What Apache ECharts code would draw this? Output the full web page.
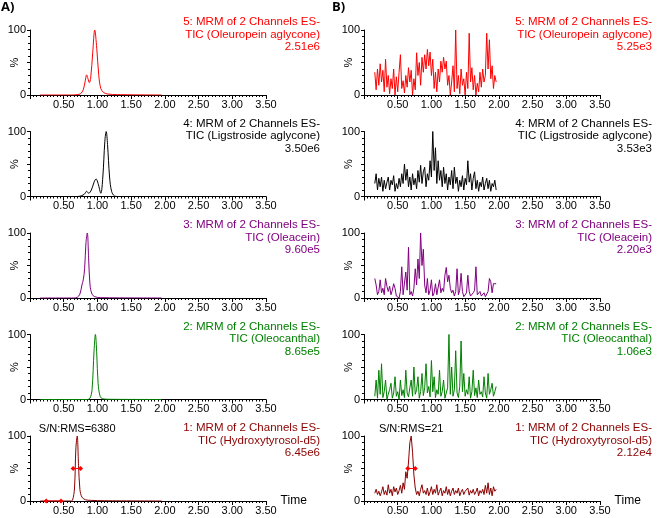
<!DOCTYPE html>
<html>
<head>
<meta charset="utf-8">
<script src="https://cdn.jsdelivr.net/npm/echarts@6/dist/echarts.min.js"></script>
<style>
    html, body { margin: 0; padding: 0; background: #fff; }
    #main { width: 657px; height: 518px; }
</style>
</head>
<body>
<div id="main"></div>
<script>
// panel titles, top to bottom (5 -> 1)
var titles = [
    '5: MRM of 2 Channels ES-\nTIC (Oleuropein aglycone)',
    '4: MRM of 2 Channels ES-\nTIC (Ligstroside aglycone)',
    '3: MRM of 2 Channels ES-\nTIC (Oleacein)',
    '2: MRM of 2 Channels ES-\nTIC (Oleocanthal)',
    '1: MRM of 2 Channels ES-\nTIC (Hydroxytyrosol-d5)'
];
var intensityA = ['2.51e6', '3.50e6', '9.60e5', '8.65e5', '6.45e6'];
var intensityB = ['5.25e3', '3.53e3', '2.20e3', '1.06e3', '2.12e4'];
var colors = ['#ff0000', '#000000', '#800080', '#008000', '#8b0000'];

// A) smooth chromatograms, [time, %]
var a5 = [[0.15, 0], [0.6, 0], [0.7, 0.5], [0.75, 2], [0.79, 8], [0.82, 22], [0.84, 31], [0.86, 25], [0.88, 19],
    [0.9, 26], [0.93, 65], [0.96, 100], [0.99, 72], [1.02, 30], [1.05, 10], [1.09, 4], [1.15, 1.5], [1.3, 0.6], [1.95, 0]];
var a4 = [[0.15, 0], [0.7, 0], [0.76, 1], [0.81, 4], [0.84, 8], [0.87, 5], [0.91, 10], [0.95, 22], [0.98, 27],
    [1.01, 20], [1.05, 5], [1.08, 30], [1.11, 85], [1.13, 100], [1.15, 80], [1.18, 30], [1.21, 8], [1.25, 1], [1.3, 0], [1.95, 0]];
var a3 = [[0.15, 0], [0.65, 0], [0.7, 1], [0.74, 6], [0.77, 20], [0.79, 28], [0.81, 45], [0.83, 85], [0.85, 100],
    [0.87, 60], [0.89, 20], [0.92, 6], [0.96, 2], [1.05, 0.5], [1.95, 0]];
var a2 = [[0.15, 0], [0.85, 0], [0.89, 2], [0.92, 15], [0.95, 75], [0.97, 100], [0.99, 70], [1.01, 25], [1.04, 5],
    [1.08, 1], [1.2, 0.3], [1.95, 0]];
var a1 = [[0.15, 0], [0.6, 0], [0.63, 1], [0.66, 20], [0.68, 80], [0.7, 100], [0.72, 55], [0.74, 18], [0.77, 6],
    [0.82, 2], [0.9, 1], [1.1, 0.4], [1.95, 0]];
var a1Width = [[0.64, 50], [0.75, 50]];
var a1Noise = [[0.24, 0], [0.46, 0]];

// B) noisy chromatograms, one value every 0.02 min from 0.16
var noiseStart = 0.16, noiseStep = 0.02;
var b5 = [35, 8, 40, 15, 48, 20, 38, 5, 55, 12, 30, 2, 25, 10, 40, 0, 28, 5, 35, 62,
    10, 22, 3, 30, 12, 42, 20, 38, 0, 25, 8, 65, 30, 50, 15, 58, 35, 62, 40, 70,
    45, 66, 30, 55, 10, 35, 5, 40, 20, 52, 35, 58, 40, 52, 15, 30, 0, 20, 45, 5,
    100, 10, 30, 2, 40, 15, 25, 0, 35, 10, 95, 20, 42, 8, 30, 0, 18, 5, 35, 12,
    40, 20, 30, 95, 40, 85, 25, 45, 10, 30, 20];
var b4 = [20, 35, 10, 28, 15, 30, 8, 25, 12, 22, 30, 10, 25, 18, 32, 8, 20, 12, 28, 15,
    35, 20, 50, 25, 42, 15, 30, 10, 35, 18, 28, 12, 40, 22, 48, 20, 38, 45, 15, 35,
    25, 55, 30, 100, 40, 75, 20, 55, 25, 40, 15, 45, 20, 35, 10, 30, 18, 40, 12, 45,
    20, 30, 8, 25, 15, 32, 10, 28, 18, 55, 22, 35, 10, 28, 38, 12, 25, 8, 22, 15,
    30, 10, 20, 28, 12, 25, 8, 20, 15, 25, 10];
var b3 = [30, 20, 5, 10, 28, 8, 15, 5, 30, 18, 10, 18, 5, 12, 22, 15, 3, 2, 0, 10,
    48, 5, 8, 40, 12, 78, 5, 10, 3, 15, 45, 20, 60, 30, 100, 50, 75, 20, 8, 30,
    5, 12, 28, 3, 8, 22, 5, 2, 28, 8, 15, 10, 35, 47, 25, 35, 15, 8, 12, 3,
    10, 45, 5, 12, 38, 10, 2, 5, 8, 35, 10, 3, 5, 8, 12, 48, 5, 2, 10, 3,
    5, 8, 2, 5, 10, 30, 25, 8, 22, 20, 22];
var b2 = [5, 30, 2, 45, 8, 55, 3, 12, 30, 0, 8, 15, 25, 2, 10, 35, 5, 12, 0, 30,
    6, 15, 3, 45, 10, 4, 18, 30, 5, 50, 8, 15, 35, 2, 12, 40, 6, 18, 55, 10,
    20, 4, 60, 12, 35, 3, 15, 8, 45, 5, 12, 30, 2, 10, 18, 100, 8, 50, 5, 15,
    75, 10, 3, 20, 90, 12, 40, 5, 15, 8, 35, 2, 12, 45, 6, 18, 3, 30, 8, 12,
    4, 35, 10, 2, 40, 8, 15, 25, 5, 12, 20];
var b1 = [12, 18, 10, 15, 8, 14, 22, 10, 16, 9, 25, 12, 18, 8, 22, 14, 20, 10, 16, 24,
    12, 28, 18, 45, 35, 60, 90, 100, 75, 40, 20, 10, 15, 8, 18, 25, 12, 16, 10, 20,
    8, 14, 22, 10, 18, 12, 25, 9, 15, 20, 8, 16, 12, 22, 10, 18, 8, 15, 20, 10,
    16, 12, 20, 8, 14, 18, 10, 15, 12, 20, 9, 16, 12, 18, 10, 14, 20, 8, 16, 12,
    18, 10, 24, 12, 28, 10, 20, 8, 22, 15, 18];
var b1Width = [[0.65, 50], [0.76, 50]];

var snA = 'S/N:RMS=6380';
var snB = 'S/N:RMS=21';

var toPairs = function (values) {
    return values.map(function (v, i) {
        return [+(noiseStart + i * noiseStep).toFixed(2), v];
    });
};

var rowTops = [30, 131.5, 233, 334.5, 436];
var rowHeight = 65;
var colLeft = [30, 364];
var colWidth = 236;
var titleX = [320, 652];
var font = 'Liberation Sans, Arial, sans-serif';

var chart = echarts.init(document.getElementById('main'), null, {renderer: 'canvas'});

var grids = [], xAxes = [], yAxes = [], series = [], texts = [];
var dataA = [a5, a4, a3, a2, a1];
var dataB = [b5, b4, b3, b2, b1].map(toPairs);

var redMarks = function (idx, data) {
    return {
        type: 'line', xAxisIndex: idx, yAxisIndex: idx, data: data,
        symbol: 'diamond', symbolSize: 5, animation: false, silent: true,
        itemStyle: {color: '#ff0000'},
        lineStyle: {color: '#ff0000', width: 1}
    };
};

for (var c = 0; c < 2; c++) {
    for (var r = 0; r < 5; r++) {
        var idx = grids.length;
        grids.push({left: colLeft[c], top: rowTops[r], width: colWidth, height: rowHeight});
        xAxes.push({
            type: 'value', gridIndex: idx, min: 0, max: 3.5, interval: 0.5,
            name: r === 4 ? 'Time' : '',
            nameLocation: 'end', nameGap: 14,
            nameTextStyle: {color: '#000', fontSize: 12, fontFamily: font, padding: [6, 0, 0, 0]},
            axisLine: {lineStyle: {color: '#000', width: 1}},
            axisTick: {length: 4, lineStyle: {color: '#000'}},
            minorTick: {show: true, splitNumber: 10, length: 2, lineStyle: {color: '#000'}},
            splitLine: {show: false},
            axisLabel: {
                color: '#000', fontSize: 11, fontFamily: font, margin: 4,
                formatter: function (v) { return v === 0 ? '' : v.toFixed(2); }
            }
        });
        yAxes.push({
            type: 'value', gridIndex: idx, min: 0, max: 100, interval: 50,
            name: '%', nameLocation: 'middle', nameRotate: 90, nameGap: 10,
            nameMoveOverlap: false,
            nameTextStyle: {color: '#000', fontSize: 11, fontFamily: font},
            axisLine: {show: true, lineStyle: {color: '#000', width: 1}},
            axisTick: {show: true, length: 3, lineStyle: {color: '#000'}},
            minorTick: {show: true, splitNumber: 5, length: 2, lineStyle: {color: '#000'}},
            splitLine: {show: false},
            axisLabel: {
                color: '#000', fontSize: 11, fontFamily: font, margin: 4,
                formatter: function (v) { return v === 50 ? '' : String(v); }
            }
        });
        var s = {
            type: 'line', xAxisIndex: idx, yAxisIndex: idx,
            data: c === 0 ? dataA[r] : dataB[r],
            showSymbol: false, silent: true, animation: false,
            smooth: c === 0 ? 0.35 : false,
            lineStyle: {color: colors[r], width: 1}
        };
        if (r === 4) {
            s.markPoint = {
                symbol: 'circle', symbolSize: 0,
                data: [{coord: [0.7, 100]}],
                label: {
                    show: true, position: 'top', distance: 2, color: '#000',
                    fontSize: 11, fontFamily: font,
                    formatter: c === 0 ? snA : snB
                }
            };
        }
        series.push(s);
        if (r === 4) {
            series.push(redMarks(idx, c === 0 ? a1Width : b1Width));
            if (c === 0) series.push(redMarks(idx, a1Noise));
        }
        texts.push({
            type: 'text', x: titleX[c], y: rowTops[r] - 14, silent: true,
            style: {
                text: titles[r] + '\n' + (c === 0 ? intensityA[r] : intensityB[r]),
                align: 'right', verticalAlign: 'top',
                fill: colors[r], fontSize: 11.5, fontFamily: font, lineHeight: 12.5
            }
        });
    }
}

texts.push({type: 'text', x: 1, y: 1, style: {text: 'A)', fill: '#000', fontSize: 13, fontWeight: 'bold', fontFamily: 'Open Sans, sans-serif'}});
texts.push({type: 'text', x: 332, y: 1, style: {text: 'B)', fill: '#000', fontSize: 13, fontWeight: 'bold', fontFamily: 'Open Sans, sans-serif'}});

chart.setOption({
    backgroundColor: '#fff',
    animation: false,
    graphic: texts,
    grid: grids,
    xAxis: xAxes,
    yAxis: yAxes,
    series: series
});
</script>
</body>
</html>
